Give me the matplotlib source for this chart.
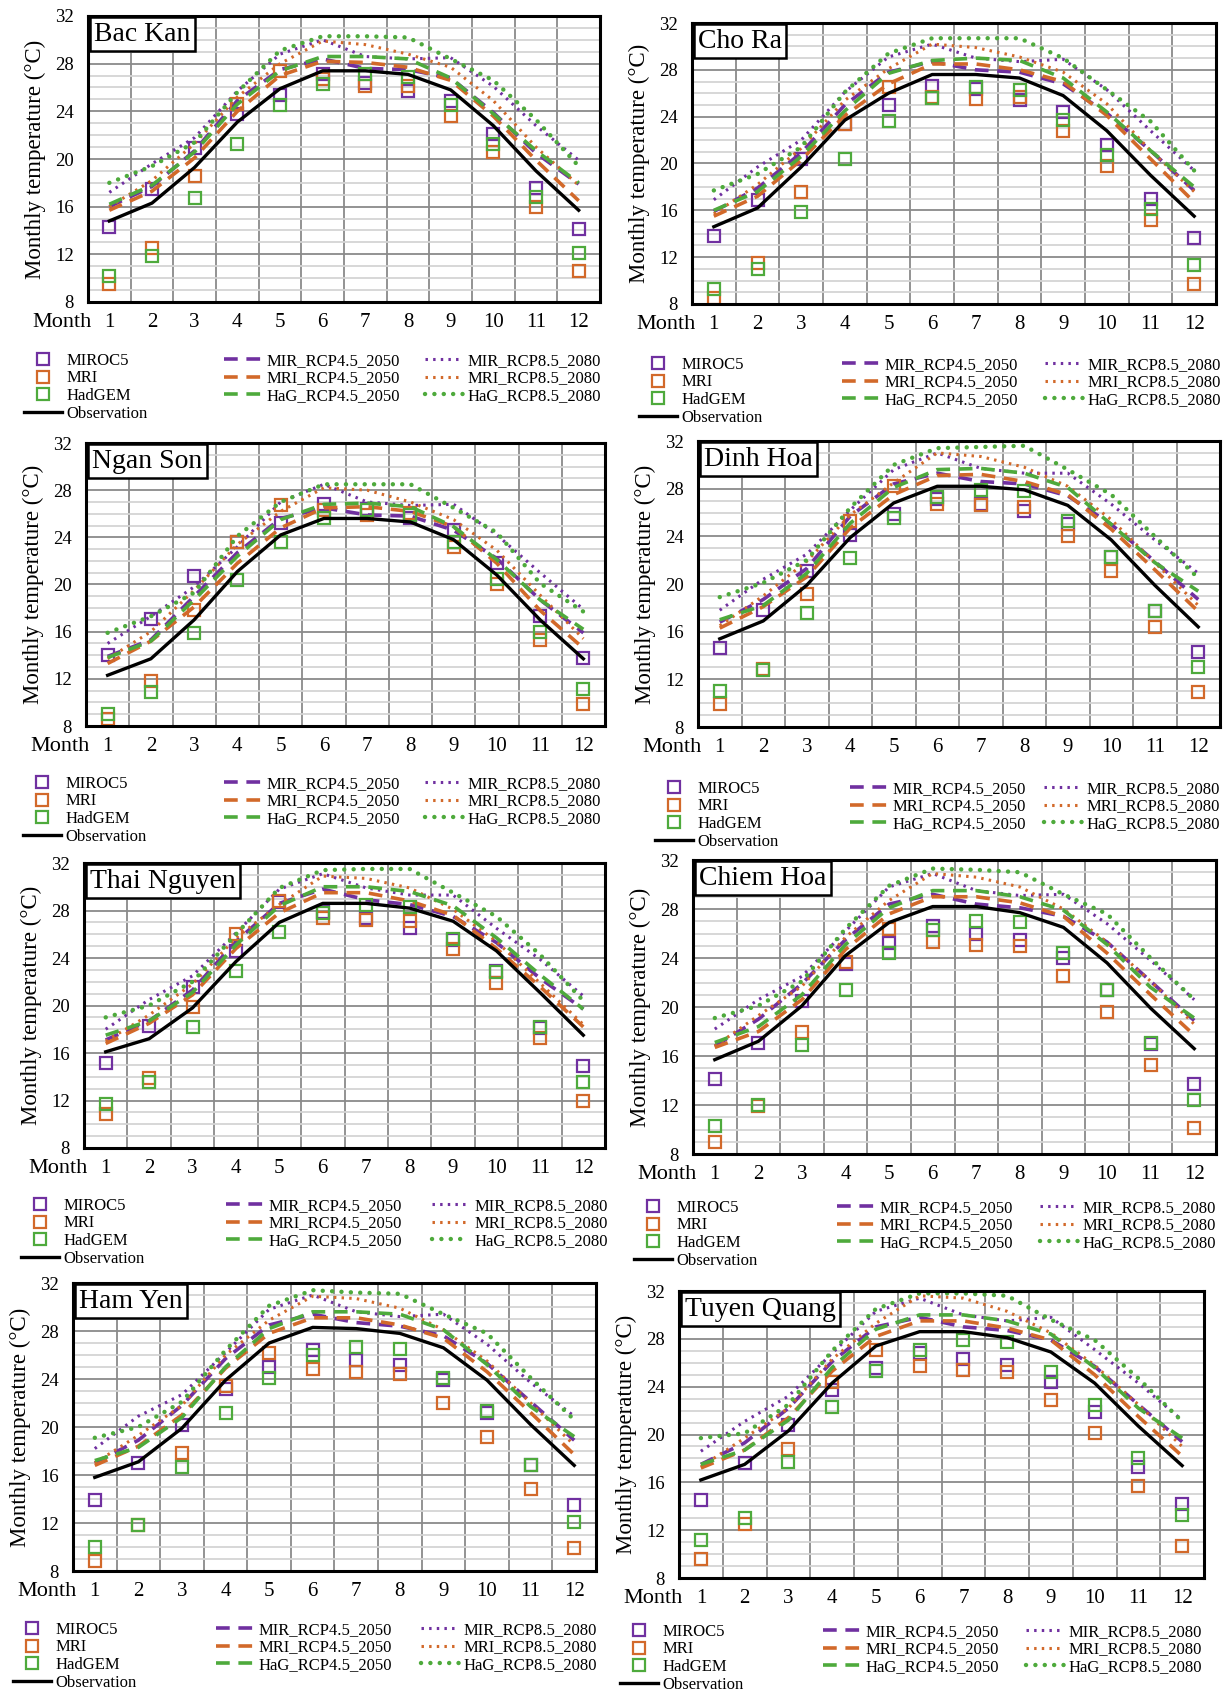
import matplotlib
matplotlib.use("Agg")
import matplotlib.pyplot as plt

plt.rcParams['font.family'] = ['Liberation Serif', 'DejaVu Serif']

MONTHS = list(range(1, 13))
STATIONS = ["Bac Kan", "Cho Ra", "Ngan Son", "Dinh Hoa",
            "Thai Nguyen", "Chiem Hoa", "Ham Yen", "Tuyen Quang"]

OBS = {
    "Bac Kan":     [14.8, 16.3, 19.3, 23.1, 25.9, 27.4, 27.4, 27.1, 25.8, 22.8, 19.0, 15.7],
    "Cho Ra":      [14.6, 16.2, 19.7, 23.7, 26.0, 27.6, 27.6, 27.3, 25.8, 22.8, 19.0, 15.5],
    "Ngan Son":    [12.3, 13.7, 17.0, 21.1, 24.2, 25.6, 25.6, 25.3, 23.8, 20.8, 17.0, 13.7],
    "Dinh Hoa":    [15.4, 16.9, 19.9, 23.9, 26.8, 28.2, 28.2, 27.9, 26.6, 23.7, 19.9, 16.4],
    "Thai Nguyen": [16.1, 17.2, 19.8, 23.7, 27.0, 28.6, 28.6, 28.2, 27.1, 24.6, 21.1, 17.5],
    "Chiem Hoa":   [15.7, 17.2, 20.1, 24.2, 26.9, 28.2, 28.2, 27.7, 26.5, 23.6, 19.9, 16.6],
    "Ham Yen":     [15.8, 17.1, 19.9, 23.9, 27.0, 28.3, 28.2, 27.8, 26.6, 23.9, 20.2, 16.8],
    "Tuyen Quang": [16.2, 17.5, 20.3, 24.3, 27.4, 28.6, 28.6, 28.1, 26.9, 24.3, 20.7, 17.4],
}
MIROC5 = {
    "Bac Kan":     [14.3, 17.5, 20.9, 23.8, 25.4, 27.1, 26.4, 25.7, 24.9, 22.1, 17.6, 14.1],
    "Cho Ra":      [13.8, 16.9, 20.4, 23.4, 25.0, 26.6, 26.4, 25.4, 24.4, 21.6, 17.0, 13.6],
    "Ngan Son":    [14.0, 17.1, 20.7, 23.6, 25.2, 26.8, 26.4, 25.6, 24.6, 21.8, 17.3, 13.8],
    "Dinh Hoa":    [14.6, 17.8, 21.1, 24.1, 25.9, 27.1, 26.7, 26.1, 25.0, 22.3, 17.7, 14.3],
    "Thai Nguyen": [15.2, 18.3, 21.6, 24.6, 28.7, 27.9, 27.4, 26.5, 25.5, 22.9, 18.1, 14.9],
    "Chiem Hoa":   [14.1, 17.1, 20.5, 23.5, 25.2, 26.6, 26.0, 25.5, 24.0, 21.4, 17.0, 13.7],
    "Ham Yen":     [13.9, 17.0, 20.2, 23.2, 25.0, 26.4, 25.6, 25.2, 23.9, 21.2, 16.8, 13.5],
    "Tuyen Quang": [14.5, 17.6, 20.8, 23.7, 25.6, 26.8, 26.3, 25.8, 24.4, 21.9, 17.3, 14.2],
}
MRI = {
    "Bac Kan":     [9.5, 12.5, 18.6, 24.6, 27.4, 26.7, 26.1, 26.1, 23.6, 20.6, 16.0, 10.6],
    "Cho Ra":      [8.5, 11.5, 17.6, 23.4, 26.5, 25.7, 25.5, 25.7, 22.8, 19.8, 15.2, 9.7],
    "Ngan Son":    [8.6, 11.8, 17.8, 23.6, 26.7, 26.3, 25.9, 26.1, 23.2, 20.0, 15.3, 9.9],
    "Dinh Hoa":    [9.9, 12.9, 19.2, 25.3, 28.2, 26.7, 26.6, 26.5, 24.0, 21.1, 16.4, 10.9],
    "Thai Nguyen": [10.9, 13.9, 19.9, 26.0, 28.8, 27.4, 27.2, 27.1, 24.8, 21.9, 17.3, 12.0],
    "Chiem Hoa":   [9.0, 11.9, 18.0, 23.7, 26.4, 25.3, 25.1, 25.0, 22.5, 19.6, 15.3, 10.1],
    "Ham Yen":     [8.8, 11.8, 17.8, 23.4, 26.2, 24.8, 24.6, 24.4, 22.0, 19.2, 14.8, 9.9],
    "Tuyen Quang": [9.6, 12.5, 18.8, 24.4, 27.1, 25.7, 25.4, 25.2, 22.9, 20.1, 15.7, 10.7],
}
HADGEM = {
    "Bac Kan":     [10.2, 11.9, 16.7, 21.3, 24.5, 26.3, 27.1, 26.9, 24.5, 21.3, 16.8, 12.1],
    "Cho Ra":      [9.3, 11.0, 15.9, 20.4, 23.6, 25.6, 26.5, 26.3, 23.7, 20.7, 16.1, 11.3],
    "Ngan Son":    [9.0, 10.9, 15.9, 20.4, 23.6, 25.6, 26.3, 25.9, 23.6, 20.5, 16.0, 11.1],
    "Dinh Hoa":    [11.0, 12.8, 17.6, 22.2, 25.5, 27.3, 27.9, 27.8, 25.3, 22.3, 17.7, 13.0],
    "Thai Nguyen": [11.7, 13.6, 18.2, 22.9, 26.2, 27.8, 28.5, 28.3, 25.6, 22.8, 18.2, 13.6],
    "Chiem Hoa":   [10.3, 12.0, 16.9, 21.4, 24.4, 26.3, 27.0, 26.9, 24.4, 21.4, 17.1, 12.4],
    "Ham Yen":     [10.0, 11.8, 16.7, 21.2, 24.1, 26.0, 26.7, 26.5, 24.1, 21.3, 16.8, 12.1],
    "Tuyen Quang": [11.2, 13.0, 17.7, 22.3, 25.3, 27.1, 27.9, 27.7, 25.2, 22.5, 18.0, 13.3],
}
MIR_45 = {
    "Bac Kan":     [16.0, 17.7, 20.7, 24.9, 27.5, 28.4, 27.6, 27.5, 26.8, 23.9, 20.5, 17.9],
    "Cho Ra":      [15.9, 17.9, 20.9, 25.0, 27.8, 28.7, 28.0, 27.8, 26.8, 24.3, 21.1, 17.7],
    "Ngan Son":    [13.9, 15.3, 19.0, 22.7, 25.6, 26.5, 25.9, 25.8, 24.6, 22.2, 18.7, 15.9],
    "Dinh Hoa":    [16.8, 18.7, 21.3, 25.7, 28.4, 29.3, 28.6, 28.4, 27.4, 25.0, 21.9, 18.7],
    "Thai Nguyen": [17.1, 18.7, 21.3, 25.4, 28.6, 29.8, 28.9, 28.5, 27.5, 25.3, 22.3, 19.7],
    "Chiem Hoa":   [16.8, 19.0, 21.9, 25.5, 28.4, 29.2, 28.4, 28.1, 27.4, 25.3, 22.1, 18.9],
    "Ham Yen":     [17.0, 18.9, 21.8, 25.7, 28.5, 29.4, 28.7, 28.4, 27.6, 25.3, 22.1, 18.9],
    "Tuyen Quang": [17.5, 19.3, 22.2, 26.1, 29.0, 29.8, 29.0, 28.7, 27.9, 25.7, 22.5, 19.4],
}
MRI_45 = {
    "Bac Kan":     [15.7, 17.3, 20.1, 24.0, 27.0, 28.2, 28.1, 27.7, 26.6, 23.6, 19.9, 16.5],
    "Cho Ra":      [15.5, 17.2, 20.3, 24.1, 26.8, 28.5, 28.5, 28.0, 27.0, 24.1, 20.4, 16.7],
    "Ngan Son":    [13.3, 15.2, 18.1, 21.8, 24.8, 26.5, 26.6, 26.2, 24.9, 21.8, 17.8, 14.6],
    "Dinh Hoa":    [16.3, 18.1, 20.6, 24.7, 27.5, 29.1, 29.2, 28.6, 27.5, 24.6, 21.2, 17.7],
    "Thai Nguyen": [16.8, 18.5, 20.9, 24.8, 27.8, 29.5, 29.5, 28.8, 27.6, 24.8, 21.6, 18.2],
    "Chiem Hoa":   [16.7, 18.0, 20.6, 24.7, 27.6, 29.0, 29.0, 28.5, 27.4, 24.4, 21.0, 17.7],
    "Ham Yen":     [16.8, 18.4, 21.0, 24.9, 27.8, 29.1, 29.1, 28.5, 27.4, 24.6, 21.2, 17.7],
    "Tuyen Quang": [17.2, 18.7, 21.4, 25.3, 28.2, 29.5, 29.5, 28.9, 27.9, 25.0, 21.5, 18.2],
}
HAG_45 = {
    "Bac Kan":     [16.2, 17.8, 20.6, 24.6, 27.4, 28.6, 28.6, 28.4, 26.8, 23.8, 20.7, 18.0],
    "Cho Ra":      [16.0, 17.6, 20.6, 24.5, 27.7, 28.8, 29.0, 28.8, 27.3, 24.4, 21.1, 18.0],
    "Ngan Son":    [13.8, 15.2, 18.7, 22.4, 25.5, 26.8, 26.9, 26.6, 24.9, 22.1, 18.7, 16.2],
    "Dinh Hoa":    [17.0, 18.2, 20.9, 25.1, 28.1, 29.6, 29.7, 29.3, 28.1, 25.0, 21.8, 19.4],
    "Thai Nguyen": [17.5, 18.7, 21.1, 25.1, 28.4, 30.0, 30.0, 29.6, 28.4, 25.7, 22.6, 19.7],
    "Chiem Hoa":   [17.1, 18.4, 21.0, 25.1, 28.1, 29.5, 29.5, 29.0, 27.9, 25.1, 21.6, 19.1],
    "Ham Yen":     [17.2, 18.3, 20.8, 25.0, 28.2, 29.6, 29.6, 29.4, 28.1, 25.2, 21.7, 19.2],
    "Tuyen Quang": [17.5, 18.7, 21.2, 25.6, 28.8, 30.0, 30.0, 29.5, 28.4, 25.6, 22.2, 19.7],
}
MIR_85 = {
    "Bac Kan":     [17.2, 19.6, 21.8, 25.7, 28.8, 30.0, 28.6, 28.4, 28.5, 26.1, 22.8, 19.9],
    "Cho Ra":      [16.9, 19.7, 22.0, 26.1, 29.1, 30.2, 29.0, 28.7, 28.9, 26.3, 22.8, 19.4],
    "Ngan Son":    [15.0, 17.3, 19.8, 23.2, 27.0, 28.5, 27.0, 26.7, 26.8, 24.2, 21.0, 17.9],
    "Dinh Hoa":    [17.8, 20.4, 22.5, 26.2, 29.6, 31.0, 29.7, 29.3, 29.3, 26.7, 23.7, 20.9],
    "Thai Nguyen": [18.0, 20.5, 22.5, 26.1, 29.8, 31.1, 29.9, 29.3, 29.3, 26.5, 23.9, 20.8],
    "Chiem Hoa":   [18.2, 20.6, 22.5, 26.2, 29.8, 30.9, 29.5, 29.1, 29.2, 26.8, 23.8, 20.6],
    "Ham Yen":     [18.2, 20.9, 22.7, 26.2, 29.8, 31.0, 29.6, 29.2, 29.4, 26.9, 23.7, 20.9],
    "Tuyen Quang": [18.6, 21.1, 23.2, 26.8, 30.3, 31.4, 30.0, 29.5, 29.8, 27.1, 24.3, 21.2],
}
MRI_85 = {
    "Bac Kan":     [16.0, 18.2, 21.3, 25.2, 28.0, 29.9, 29.6, 28.8, 27.7, 24.9, 21.0, 17.8],
    "Cho Ra":      [15.7, 18.2, 21.3, 25.4, 28.1, 30.2, 29.9, 29.1, 27.8, 25.1, 21.1, 17.6],
    "Ngan Son":    [13.7, 16.0, 19.5, 23.4, 26.2, 28.2, 28.0, 27.0, 25.5, 22.9, 19.1, 15.4],
    "Dinh Hoa":    [16.5, 19.0, 21.9, 25.8, 28.5, 31.0, 30.7, 29.8, 28.2, 25.4, 21.8, 18.2],
    "Thai Nguyen": [17.0, 19.2, 21.8, 25.7, 28.5, 30.9, 30.7, 29.9, 28.1, 25.4, 21.9, 18.4],
    "Chiem Hoa":   [16.8, 19.3, 21.7, 25.7, 28.7, 30.9, 30.6, 29.8, 28.0, 25.3, 22.1, 18.6],
    "Ham Yen":     [17.0, 19.3, 21.8, 26.0, 28.9, 30.9, 30.7, 29.9, 28.1, 25.5, 22.0, 18.5],
    "Tuyen Quang": [17.3, 19.7, 22.2, 26.3, 29.3, 31.6, 31.4, 30.3, 28.5, 25.8, 22.5, 19.0],
}
HAG_85 = {
    "Bac Kan":     [18.0, 19.4, 21.4, 25.6, 29.1, 30.3, 30.3, 30.2, 28.4, 26.6, 23.3, 19.4],
    "Cho Ra":      [17.7, 19.1, 21.4, 26.1, 29.4, 30.7, 30.7, 30.7, 29.0, 26.3, 23.6, 19.4],
    "Ngan Son":    [15.9, 17.3, 19.3, 24.1, 27.0, 28.5, 28.5, 28.5, 26.5, 24.4, 20.1, 17.7],
    "Dinh Hoa":    [18.9, 20.1, 22.0, 26.4, 30.0, 31.4, 31.5, 31.6, 29.6, 27.5, 24.0, 20.5],
    "Thai Nguyen": [19.0, 20.0, 22.0, 26.0, 29.9, 31.4, 31.5, 31.5, 29.5, 27.5, 24.3, 20.4],
    "Chiem Hoa":   [19.1, 20.1, 22.1, 26.4, 29.9, 31.3, 31.2, 31.0, 29.2, 27.6, 24.0, 20.6],
    "Ham Yen":     [19.1, 20.0, 22.1, 26.4, 30.1, 31.4, 31.2, 31.1, 29.4, 27.8, 24.1, 20.6],
    "Tuyen Quang": [19.7, 20.1, 22.5, 27.0, 30.5, 31.8, 31.8, 31.6, 29.6, 27.9, 24.7, 21.1],
}

Y_TICKS = [8, 12, 16, 20, 24, 28, 32]

# colours
PURPLE = "#7030A0"
ORANGE = "#D2692A"
GREEN = "#4EAA3C"

# layout in pixels: left, right, top, bottom, legend col1 marker x, col2 x, col3 x, first row y
W, H = 1231, 1692
LAYOUT = {
    "Bac Kan":     (88, 600, 16, 302, 43, 224, 425, 361),
    "Cho Ra":      (692, 1216, 23, 304, 658, 842, 1045, 365),
    "Ngan Son":    (86, 605, 443, 726, 42, 224, 425, 784),
    "Dinh Hoa":    (698, 1220, 441, 727, 674, 850, 1044, 789),
    "Thai Nguyen": (84, 605, 863, 1148, 40, 226, 432, 1206),
    "Chiem Hoa":   (693, 1216, 860, 1154, 653, 837, 1040, 1208),
    "Ham Yen":     (73, 596, 1283, 1571, 32, 216, 421, 1630),
    "Tuyen Quang": (679, 1204, 1291, 1578, 639, 823, 1026, 1632),
}

fig = plt.figure(figsize=(W / 100, H / 100), dpi=100)

def fx(px):
    return px / W

def fy(py):
    return 1 - py / H

MS = 9
MEW = 1.6
DASH45 = (0, (3.8, 2.4))
DOT_SMALL = (0, (0.8, 1.7))
DOT_BIG = (0, (0.01, 2.1))
LEG_FS = 12
ROW = 17.5

for name in STATIONS:
    L, R, T, B, mx, c2, c3, y1 = LAYOUT[name]
    ax = fig.add_axes([fx(L), fy(B), (R - L) / W, (B - T) / H])
    ax.set_xlim(0.5, 12.5)
    ax.set_ylim(8, 32)
    ax.set_xticks(MONTHS)
    ax.set_xticklabels([str(m) for m in MONTHS])
    ax.set_xticks([m + 0.5 for m in MONTHS[:-1]], minor=True)
    ax.set_yticks(Y_TICKS)
    ax.set_yticks([v for v in range(8, 33) if v % 4], minor=True)
    ax.grid(which='minor', axis='y', color='#d4d4d4', lw=1.3)
    ax.grid(which='major', axis='y', color='#8a8a8a', lw=1.3)
    ax.grid(which='minor', axis='x', color='#8a8a8a', lw=1.3)
    ax.set_axisbelow(True)
    ax.tick_params(which='both', length=0)
    ax.tick_params(axis='x', labelsize=15, pad=8)
    ax.tick_params(axis='y', labelsize=13.5, pad=10)
    for sp in ax.spines.values():
        sp.set_linewidth(2.2)
        sp.set_color('black')

    h_mir = ax.plot(MONTHS, MIROC5[name], ls='none', marker='s', ms=MS, mfc='none',
                    mec=PURPLE, mew=MEW, label='MIROC5')[0]
    h_mir45 = ax.plot(MONTHS, MIR_45[name], color=PURPLE, lw=2.6, ls=DASH45,
                      label='MIR_RCP4.5_2050')[0]
    h_mir85 = ax.plot(MONTHS, MIR_85[name], color=PURPLE, lw=2.2, ls=DOT_SMALL,
                      label='MIR_RCP8.5_2080')[0]
    h_mri = ax.plot(MONTHS, MRI[name], ls='none', marker='s', ms=MS, mfc='none',
                    mec=ORANGE, mew=MEW, label='MRI')[0]
    h_mri45 = ax.plot(MONTHS, MRI_45[name], color=ORANGE, lw=2.6, ls=DASH45,
                      label='MRI_RCP4.5_2050')[0]
    h_mri85 = ax.plot(MONTHS, MRI_85[name], color=ORANGE, lw=2.2, ls=DOT_SMALL,
                      label='MRI_RCP8.5_2080')[0]
    h_had = ax.plot(MONTHS, HADGEM[name], ls='none', marker='s', ms=MS, mfc='none',
                    mec=GREEN, mew=MEW, label='HadGEM')[0]
    h_hag45 = ax.plot(MONTHS, HAG_45[name], color=GREEN, lw=2.6, ls=DASH45,
                      label='HaG_RCP4.5_2050')[0]
    h_hag85 = ax.plot(MONTHS, HAG_85[name], color=GREEN, lw=3.2, ls=DOT_BIG,
                      dash_capstyle='round', label='HaG_RCP8.5_2080')[0]
    h_obs = ax.plot(MONTHS, OBS[name], color='black', lw=2.4, label='Observation')[0]

    ax.annotate(name, xy=(0, 1), xycoords='axes fraction', xytext=(4.5, -4.0),
                textcoords='offset points', ha='left', va='top', fontsize=20,
                bbox=dict(boxstyle='square,pad=0.15', fc='white', ec='black', lw=1.8),
                zorder=10)

    fig.text(fx(L - 53), fy((T + B) / 2), 'Monthly temperature (°C)', rotation=90,
             ha='center', va='center', fontsize=16.5)
    fig.text(fx(L + 4), fy(B + 11), 'Month', ha='right', va='top', fontsize=16)

    common = dict(frameon=False, fontsize=LEG_FS, borderpad=0, borderaxespad=0,
                  handlelength=2.25, handletextpad=0.3, labelspacing=0.1,
                  loc='center left', bbox_transform=fig.transFigure)
    fig.legend([h_mir, h_mri, h_had, h_obs], ['MIROC5', 'MRI', 'HadGEM', 'Observation'],
               bbox_to_anchor=(fx(mx - 19), fy(y1 + 1.5 * ROW)), **common)
    fig.legend([h_mir45, h_mri45, h_hag45],
               ['MIR_RCP4.5_2050', 'MRI_RCP4.5_2050', 'HaG_RCP4.5_2050'],
               bbox_to_anchor=(fx(c2), fy(y1 + ROW)), **common)
    fig.legend([h_mir85, h_mri85, h_hag85],
               ['MIR_RCP8.5_2080', 'MRI_RCP8.5_2080', 'HaG_RCP8.5_2080'],
               bbox_to_anchor=(fx(c3), fy(y1 + ROW)), **common)

fig.savefig('out.png', dpi=100, facecolor='white')
